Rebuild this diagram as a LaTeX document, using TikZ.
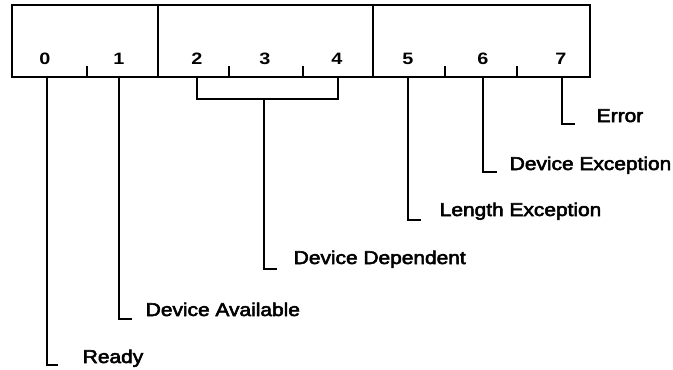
\documentclass[tikz,border=0pt]{standalone}
\usepackage{fontspec}
\setmainfont{Liberation Sans}[FakeStretch=1.13, FakeBold=3]
\newfontfamily\digitfont{Liberation Sans Bold}[FakeStretch=1.2]
\begin{document}
\begin{tikzpicture}[x=1pt,y=-1pt, line width=1.6pt,
  field/.style={draw, inner sep=0pt, outer sep=0pt, minimum height=72pt},
  lbl/.style={inner sep=0pt, anchor=base west, font=\fontsize{18.5}{20}\selectfont},
  bit/.style={inner sep=0pt, anchor=base, font=\digitfont\fontsize{16.5}{18}\selectfont},
  lead/.style={line cap=butt, line join=miter}]
\useasboundingbox (0,0) rectangle (673,370);
% byte fields
\node[field, minimum width=146pt] (f1) at (85,41) {};
\node[field, minimum width=215pt] (f2) at (265.5,41) {};
\node[field, minimum width=217pt] (f3) at (481.5,41) {};
% bit numbers
\node[bit] (d0) at (45,64) {0};
\node[bit] (d1) at (119,64) {1};
\node[bit] (d2) at (197,64) {2};
\node[bit] (d3) at (265,64) {3};
\node[bit] (d4) at (337,64) {4};
\node[bit] (d5) at (408,64) {5};
\node[bit] (d6) at (483,64) {6};
\node[bit] (d7) at (561,64) {7};
% ticks
\foreach \x in {87,229,303,445,517} \draw (\x,77) -- (\x,66);
% leader start points
\coordinate (t0) at (47,77);
\coordinate (t1) at (119,77);
\coordinate (t2) at (197,77);
\coordinate (t4) at (338,77);
\coordinate (tm) at (264,99);
\coordinate (t5) at (408,77);
\coordinate (t6) at (483,77);
\coordinate (t7) at (562,77);
% leader feet
\coordinate (e0) at (58,365);
\coordinate (e1) at (132,319);
\coordinate (em) at (277,269);
\coordinate (e5) at (421,220);
\coordinate (e6) at (497,172);
\coordinate (e7) at (575,124);
% labels
\node[lbl] (l0) at (82,363) {Ready};
\node[lbl] (l1) at (145,316) {Device Available};
\node[lbl] (lm) at (293,264) {Device Dependent};
\node[lbl] (l5) at (439,216) {Length Exception};
\node[lbl] (l6) at (509,170) {Device Exception};
\node[lbl] (l7) at (596,122) {Error};
% leaders
\draw[lead] (t0) |- (e0);
\draw[lead] (t1) |- (e1);
\draw[lead] (t2) |- (tm) -| (t4);
\draw[lead] (tm) |- (em);
\draw[lead] (t5) |- (e5);
\draw[lead] (t6) |- (e6);
\draw[lead] (t7) |- (e7);
\end{tikzpicture}
\end{document}
